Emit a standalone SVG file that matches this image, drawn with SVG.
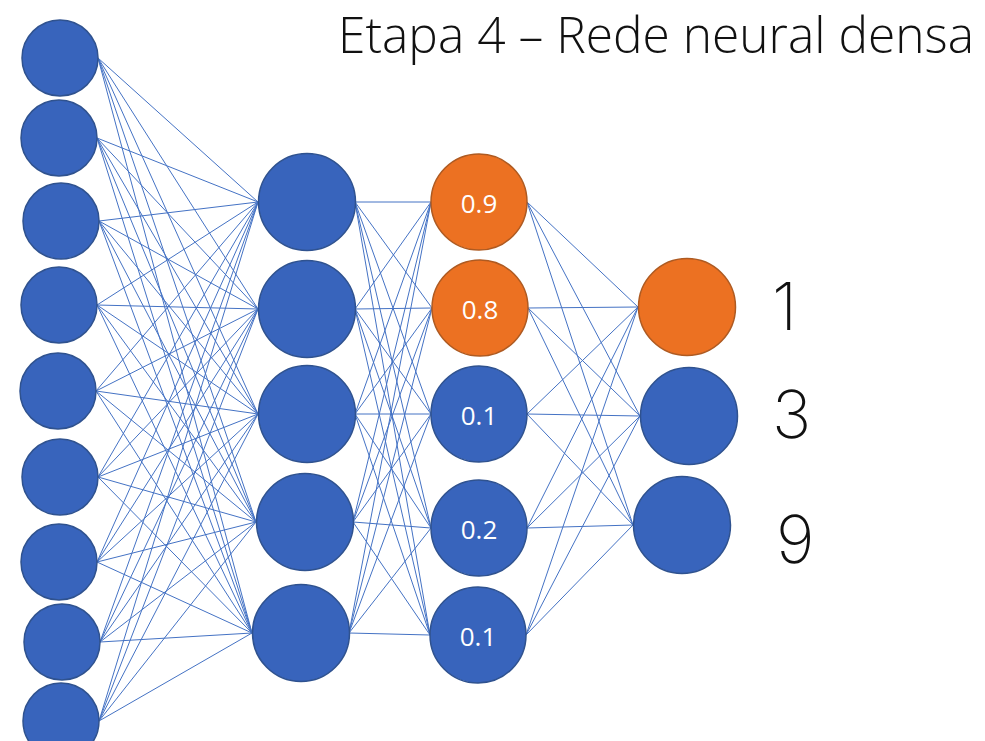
<svg xmlns="http://www.w3.org/2000/svg" width="985" height="741" viewBox="0 0 985 741">
<style>
.b{fill:#3864BC;stroke:#2F528F;stroke-width:1.5}
.o{fill:#EC7122;stroke:#AE5A21;stroke-width:1.5}
.c{fill:none;stroke:#4472C4;stroke-width:1}
.v{font-family:"Open Sans","Liberation Sans",sans-serif;font-size:26px;fill:#fff;text-anchor:middle}
.d{font-family:"Inter","DejaVu Sans",sans-serif;font-weight:200;font-size:66px;fill:#111}
.t{font-family:"Open Sans","Liberation Sans",sans-serif;font-weight:300;font-size:50px;fill:#111}
</style>
<rect width="985" height="741" fill="#fff"/>
<g id="connectors" class="c">
<path d="M98 58L258 202M98 58L258 309M98 58L258 414M98 58L256 522M98 58L252 633
M97 138L258 202M97 138L258 309M97 138L258 414M97 138L256 522M97 138L252 633
M99 221L258 202M99 221L258 309M99 221L258 414M99 221L256 522M99 221L252 633
M97 305L258 202M97 305L258 309M97 305L258 414M97 305L256 522M97 305L252 633
M96 391L258 202M96 391L258 309M96 391L258 414M96 391L256 522M96 391L252 633
M98 477L258 202M98 477L258 309M98 477L258 414M98 477L256 522M98 477L252 633
M97 562L258 202M97 562L258 309M97 562L258 414M97 562L256 522M97 562L252 633
M100 642L258 202M100 642L258 309M100 642L258 414M100 642L256 522M100 642L252 633
M99 721L258 202M99 721L258 309M99 721L258 414M99 721L256 522M99 721L252 633"/>
<path d="M355 202L431 202M355 202L432 308M355 202L431 414M355 202L431 528M355 202L430 635
M355 309L431 202M355 309L432 308M355 309L431 414M355 309L431 528M355 309L430 635
M355 414L431 202M355 414L432 308M355 414L431 414M355 414L431 528M355 414L430 635
M353 522L431 202M353 522L432 308M353 522L431 414M353 522L431 528M353 522L430 635
M349 633L431 202M349 633L432 308M349 633L431 414M349 633L431 528M349 633L430 635"/>
<path d="M527 202L638 307M527 202L640 416M527 202L633 525
M528 308L638 307M528 308L640 416M528 308L633 525
M527 414L638 307M527 414L640 416M527 414L633 525
M527 528L638 307M527 528L640 416M527 528L633 525
M526 635L638 307M526 635L640 416M526 635L633 525"/>
</g>
<g id="in1"><circle class="b" cx="60" cy="58" r="38"/></g>
<g id="in2"><circle class="b" cx="59" cy="138" r="38"/></g>
<g id="in3"><circle class="b" cx="61" cy="221" r="38"/></g>
<g id="in4"><circle class="b" cx="59" cy="305" r="38"/></g>
<g id="in5"><circle class="b" cx="58" cy="391" r="38"/></g>
<g id="in6"><circle class="b" cx="60" cy="477" r="38"/></g>
<g id="in7"><circle class="b" cx="59" cy="562" r="38"/></g>
<g id="in8"><circle class="b" cx="62" cy="642" r="38"/></g>
<g id="in9"><circle class="b" cx="61" cy="721" r="38"/></g>
<g id="h1"><circle class="b" cx="307" cy="202" r="48.5"/></g>
<g id="h2"><circle class="b" cx="307" cy="309" r="48.5"/></g>
<g id="h3"><circle class="b" cx="307" cy="414" r="48.5"/></g>
<g id="h4"><circle class="b" cx="305" cy="522" r="48.5"/></g>
<g id="h5"><circle class="b" cx="301" cy="633" r="48.5"/></g>
<g id="p1"><circle class="o" cx="479" cy="202" r="48"/><text class="v" x="479" y="213">0.9</text></g>
<g id="p2"><circle class="o" cx="480" cy="308" r="48"/><text class="v" x="480" y="319">0.8</text></g>
<g id="p3"><circle class="b" cx="479" cy="414" r="48"/><text class="v" x="479" y="425">0.1</text></g>
<g id="p4"><circle class="b" cx="479" cy="528" r="48"/><text class="v" x="479" y="539">0.2</text></g>
<g id="p5"><circle class="b" cx="478" cy="635" r="48"/><text class="v" x="478" y="646">0.1</text></g>
<g id="out1"><circle class="o" cx="687" cy="307" r="48.5"/><text class="d" x="772" y="330">1</text></g>
<g id="out2"><circle class="b" cx="689" cy="416" r="48.5"/><text class="d" x="772" y="438">3</text></g>
<g id="out3"><circle class="b" cx="682" cy="525" r="48.5"/><text class="d" x="776" y="563">9</text></g>
<text class="t" x="338" y="53" textLength="636" lengthAdjust="spacingAndGlyphs">Etapa 4 – Rede neural densa</text>
</svg>
